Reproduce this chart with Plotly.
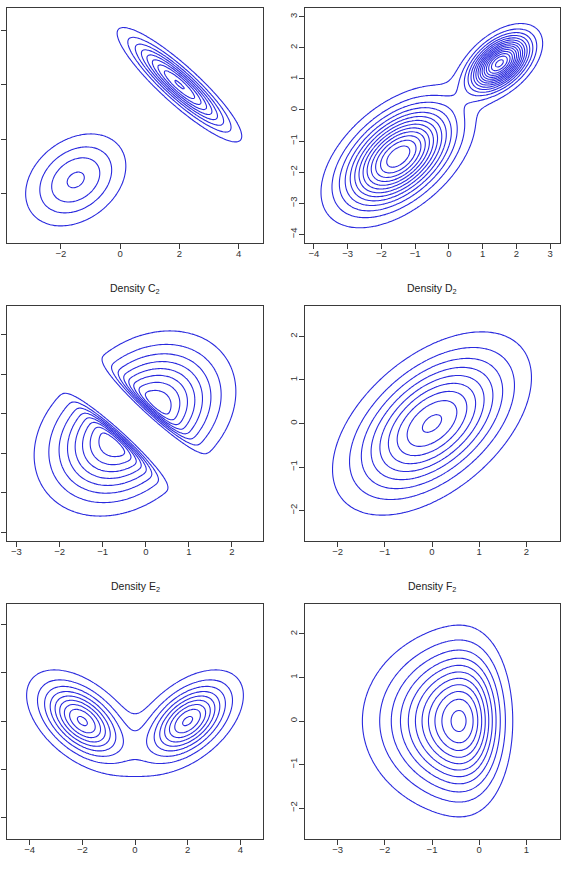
import math
import numpy as np
import plotly.graph_objects as go

# ---------------- data ----------------
# Density A2 : two-component normal mixture
a_weights = [0.5, 0.5]
a_means = [[-1.5, -1.5], [2.0, 2.0]]
a_covs = [[[1.0, 0.3], [0.3, 1.0]], [[1.0, -0.9], [-0.9, 1.0]]]
a_grid = [-3.5, 4.5]
a_step = 0.02
a_ticks = [-2, 0, 2, 4]

# Density B2 : two-component normal mixture
b_weights = [0.75, 0.25]
b_means = [[-1.5, -1.5], [1.5, 1.5]]
b_covs = [[[1.0, 0.5], [0.5, 1.0]], [[0.3, 0.15], [0.15, 0.3]]]
b_grid = [-4.0, 3.0]
b_step = 0.01
b_ticks = [-4, -3, -2, -1, 0, 1, 2, 3]

# Density C2 : two skew-normal lobes facing each other
c_weights = [0.5, 0.5]
c_locs = [[-0.6, -0.6], [0.1, 0.1]]
c_covs = [[[0.895, 0.205], [0.205, 0.895]], [[0.895, 0.205], [0.205, 0.895]]]
c_shapes = [[-6.7, -6.7], [6.7, 6.7]]
c_grid = [-3.0, 2.5]
c_step = 0.02
c_ticks = [-3, -2, -1, 0, 1, 2]

# Density D2 : correlated normal
d_weights = [1.0]
d_means = [[0.0, 0.0]]
d_covs = [[[1.0, 0.5], [0.5, 1.0]]]
d_grid = [-2.5, 2.5]
d_step = 0.02
d_ticks = [-2, -1, 0, 1, 2]

# Density E2 : bimodal mixture of bivariate t (10 df)
e_weights = [0.5, 0.5]
e_means = [[-2.0, 0.0], [2.0, 0.0]]
e_covs = [[[1.0, -0.5], [-0.5, 1.0]], [[1.0, 0.5], [0.5, 1.0]]]
e_df = 10.0
e_grid = [-4.5, 4.5]
e_step = 0.01
e_ticks = [-4, -2, 0, 2, 4]

# Density F2 : skewed in x, symmetric in y
f_weights = [1.0]
f_locs = [[0.125, 0.0]]
f_covs = [[[1.13 ** 2, 0.0], [0.0, 1.0]]]
f_shapes = [[-2.7, 0.0]]
f_grid_x = [-3.5, 1.5]
f_grid_y = [-2.5, 2.5]
f_step = 0.02
f_ticks_x = [-3, -2, -1, 0, 1]
f_ticks_y = [-2, -1, 0, 1, 2]

titles = ["Density A<sub>2</sub>", "Density B<sub>2</sub>", "Density C<sub>2</sub>",
          "Density D<sub>2</sub>", "Density E<sub>2</sub>", "Density F<sub>2</sub>"]

# ---------------- density helpers ----------------
_erf = np.vectorize(math.erf)


def quad(X, Y, mean, cov):
    dx = X - mean[0]
    dy = Y - mean[1]
    a, b, c = cov[0][0], cov[0][1], cov[1][1]
    det = a * c - b * b
    return (c * dx * dx - 2 * b * dx * dy + a * dy * dy) / det, det


def mvn(X, Y, mean, cov):
    q, det = quad(X, Y, mean, cov)
    return np.exp(-0.5 * q) / (2 * math.pi * math.sqrt(det))


def mvt(X, Y, mean, cov, nu):
    q, det = quad(X, Y, mean, cov)
    return (1 + q / nu) ** (-(nu / 2 + 1)) / (2 * math.pi * math.sqrt(det))


def normal_mix(X, Y, w, m, s):
    return sum(wi * mvn(X, Y, mi, si) for wi, mi, si in zip(w, m, s))


def t_mix(X, Y, w, m, s, nu):
    return sum(wi * mvt(X, Y, mi, si, nu) for wi, mi, si in zip(w, m, s))


def skew_mix(X, Y, w, loc, s, shp):
    out = np.zeros_like(X)
    for wi, li, si, ai in zip(w, loc, s, shp):
        t = ai[0] * (X - li[0]) / math.sqrt(si[0][0]) + ai[1] * (Y - li[1]) / math.sqrt(si[1][1])
        out += wi * 2 * mvn(X, Y, li, si) * 0.5 * (1 + _erf(t / math.sqrt(2)))
    return out


def grid(rx, ry, n=141):
    x = np.linspace(rx[0], rx[1], n)
    y = np.linspace(ry[0], ry[1], n)
    X, Y = np.meshgrid(x, y)
    return x, y, X, Y


def ext(r):
    d = (r[1] - r[0]) * 0.04
    return [r[0] - d, r[1] + d]


panels = []
x, y, X, Y = grid(a_grid, a_grid)
panels.append((x, y, normal_mix(X, Y, a_weights, a_means, a_covs), a_step, a_grid, a_grid, a_ticks, a_ticks))
x, y, X, Y = grid(b_grid, b_grid)
panels.append((x, y, normal_mix(X, Y, b_weights, b_means, b_covs), b_step, b_grid, b_grid, b_ticks, b_ticks))
x, y, X, Y = grid(c_grid, c_grid)
panels.append((x, y, skew_mix(X, Y, c_weights, c_locs, c_covs, c_shapes), c_step, c_grid, c_grid, c_ticks, c_ticks))
x, y, X, Y = grid(d_grid, d_grid)
panels.append((x, y, normal_mix(X, Y, d_weights, d_means, d_covs), d_step, d_grid, d_grid, d_ticks, d_ticks))
x, y, X, Y = grid(e_grid, e_grid)
panels.append((x, y, t_mix(X, Y, e_weights, e_means, e_covs, e_df), e_step, e_grid, e_grid, e_ticks, e_ticks))
x, y, X, Y = grid(f_grid_x, f_grid_y)
panels.append((x, y, skew_mix(X, Y, f_weights, f_locs, f_covs, f_shapes), f_step, f_grid_x, f_grid_y, f_ticks_x, f_ticks_y))

# ---------------- layout ----------------
W, H = 567, 873
col_px = [(7, 263), (304.5, 559.5)]
row_px = [(8, 243), (306, 541), (603.5, 838.5)]
title_py = [None, 289, 587]

LINE = "rgb(42,42,222)"
AX = "#3a3a3a"
FONT = "Liberation Sans, Arial, sans-serif"

fig = go.Figure()
layout = dict(width=W, height=H, margin=dict(l=0, r=0, t=0, b=0),
              paper_bgcolor="white", plot_bgcolor="white", showlegend=False,
              template="none", annotations=[])

for i, (x, y, z, step, gx, gy, tx, ty) in enumerate(panels):
    r, c = divmod(i, 2)
    k = "" if i == 0 else str(i + 1)
    fig.add_trace(go.Contour(
        x=x, y=y, z=z, xaxis="x" + k, yaxis="y" + k,
        autocontour=False,
        contours=dict(start=step, end=step * 40, size=step, coloring="lines"),
        colorscale=[[0, LINE], [1, LINE]], showscale=False,
        line=dict(width=1.1, smoothing=1), hoverinfo="skip"))
    xd = [col_px[c][0] / W, col_px[c][1] / W]
    yd = [1 - row_px[r][1] / H, 1 - row_px[r][0] / H]
    common = dict(showgrid=False, zeroline=False, showline=True, mirror=True,
                  linecolor=AX, linewidth=1, ticks="outside", ticklen=5,
                  tickwidth=1, tickcolor=AX, automargin=False,
                  tickfont=dict(family=FONT, size=9.5, color="#333"))
    layout["xaxis" + k] = dict(domain=xd, range=ext(gx), anchor="y" + k,
                               tickmode="array", tickvals=tx,
                               ticklabelstandoff=-3, **common)
    # left-column y labels fall outside the cropped picture, so only ticks remain
    layout["yaxis" + k] = dict(domain=yd, range=ext(gy), anchor="x" + k,
                               tickmode="array", tickvals=ty, tickangle=-90,
                               ticklabelstandoff=-2,
                               showticklabels=(c == 1), **common)
    if title_py[r] is not None:
        layout["annotations"].append(dict(
            text=titles[i], xref="paper", yref="paper",
            x=(xd[0] + xd[1]) / 2, y=1 - title_py[r] / H,
            xanchor="center", yanchor="middle", showarrow=False,
            font=dict(family=FONT, size=10.5, color="#222")))

fig.update_layout(**layout)
fig.write_html("out.html")
